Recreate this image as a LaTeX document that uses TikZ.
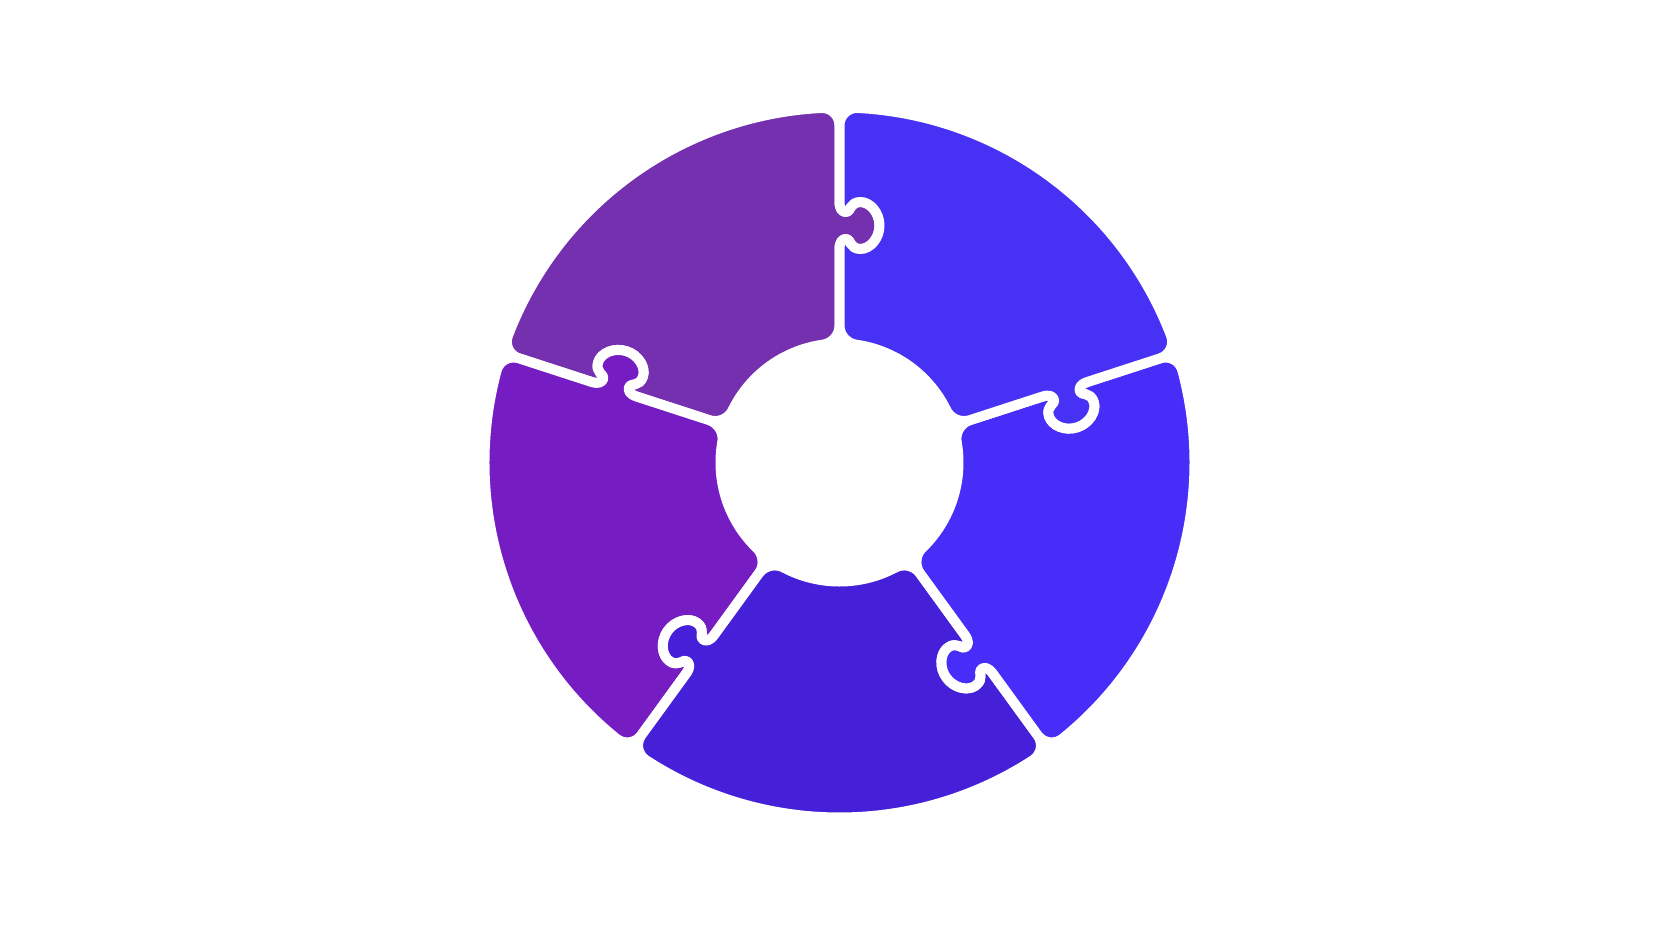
\documentclass[tikz,border=0pt]{standalone}
\usetikzlibrary{calc}
\definecolor{cA}{HTML}{7430AF}
\definecolor{cB}{HTML}{761CC3}
\definecolor{cC}{HTML}{4520D8}
\definecolor{cD}{HTML}{482CF7}
\definecolor{cE}{HTML}{4731F5}
\tikzset{piece/.style={draw=white, line width=10pt, line join=round}}
\begin{document}
\begin{tikzpicture}[x=1pt,y=1pt]
\useasboundingbox (-839.5,-482.5) rectangle (840.5,462.5);
\fill[white] (-839.5,-482.5) rectangle (840.5,462.5);
% edge geometry (radial boundary with puzzle tab protruding clockwise)
\foreach \e in {0,...,4}{
 \begin{scope}[rotate={90+72*\e}]
  \coordinate (e\e-in) at (119,0);
  \coordinate (e\e-inR) at (137,0);
  \coordinate (e\e-inRc) at (127.06,0);
  \coordinate (e\e-inP) at (8.666:119);
  \coordinate (e\e-inM) at (-8.666:119);
  \coordinate (e\e-inPc) at ($(8.666:119)!0.5523!(119,0)$);
  \coordinate (e\e-inMc) at ($(-8.666:119)!0.5523!(119,0)$);
  \coordinate (e\e-out) at (355,0);
  \coordinate (e\e-outR) at (337,0);
  \coordinate (e\e-outRc) at (346.94,0);
  \coordinate (e\e-outP) at (2.905:355);
  \coordinate (e\e-outM) at (-2.905:355);
  \coordinate (e\e-outPc) at ($(2.905:355)!0.5523!(355,0)$);
  \coordinate (e\e-outMc) at ($(-2.905:355)!0.5523!(355,0)$);
  \coordinate (e\e-Q6) at (261,0);
  \coordinate (e\e-a1) at (253,0);
  \coordinate (e\e-a2) at (250.5,-3);
  \coordinate (e\e-Q5) at (250.5,-7);
  \coordinate (e\e-b1) at (250.5,-11);
  \coordinate (e\e-b2) at (260.5,-10);
  \coordinate (e\e-Q4) at (260.5,-21);
  \coordinate (e\e-c1) at (260.5,-30.5);
  \coordinate (e\e-c2) at (250,-40);
  \coordinate (e\e-Q3) at (237,-40);
  \coordinate (e\e-d1) at (224,-40);
  \coordinate (e\e-d2) at (213.5,-30.5);
  \coordinate (e\e-Q2) at (213.5,-21);
  \coordinate (e\e-f1) at (213.5,-10);
  \coordinate (e\e-f2) at (223.5,-11);
  \coordinate (e\e-Q1) at (223.5,-7);
  \coordinate (e\e-g1) at (223.5,-3);
  \coordinate (e\e-g2) at (221,0);
  \coordinate (e\e-Q0) at (213,0);
 \end{scope}
}
\foreach \k/\col in {0/cA,1/cB,2/cC,3/cD,4/cE}{
  \pgfmathsetmacro\a{90+72*\k}
  \pgfmathtruncatemacro\n{mod(\k+1,5)}
  \filldraw[piece, fill=\col]
    ({\a+36}:119) arc[start angle={\a+36}, end angle={\a+8.666}, radius=119pt]
    .. controls (e\k-inPc) and (e\k-inRc) .. (e\k-inR) -- (e\k-Q0)
    .. controls (e\k-g2) and (e\k-g1) .. (e\k-Q1)
    .. controls (e\k-f2) and (e\k-f1) .. (e\k-Q2)
    .. controls (e\k-d2) and (e\k-d1) .. (e\k-Q3)
    .. controls (e\k-c2) and (e\k-c1) .. (e\k-Q4)
    .. controls (e\k-b2) and (e\k-b1) .. (e\k-Q5)
    .. controls (e\k-a2) and (e\k-a1) .. (e\k-Q6)
    -- (e\k-outR) .. controls (e\k-outRc) and (e\k-outPc) .. (e\k-outP)
    arc[start angle={\a+2.905}, end angle={\a+69.095}, radius=355pt]
    .. controls (e\n-outMc) and (e\n-outRc) .. (e\n-outR) -- (e\n-Q6)
    .. controls (e\n-a1) and (e\n-a2) .. (e\n-Q5)
    .. controls (e\n-b1) and (e\n-b2) .. (e\n-Q4)
    .. controls (e\n-c1) and (e\n-c2) .. (e\n-Q3)
    .. controls (e\n-d1) and (e\n-d2) .. (e\n-Q2)
    .. controls (e\n-f1) and (e\n-f2) .. (e\n-Q1)
    .. controls (e\n-g1) and (e\n-g2) .. (e\n-Q0)
    -- (e\n-inR) .. controls (e\n-inRc) and (e\n-inMc) .. (e\n-inM)
    arc[start angle={\a+63.334}, end angle={\a+36}, radius=119pt] -- cycle;
}
\end{tikzpicture}
\end{document}
